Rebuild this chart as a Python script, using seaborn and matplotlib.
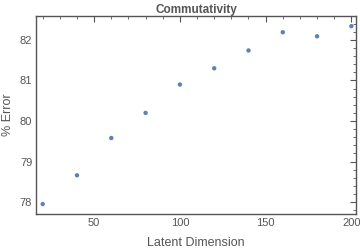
import matplotlib
matplotlib.use('Agg')
import matplotlib.pyplot as plt
import seaborn as sns
import pandas as pd
from matplotlib.ticker import MultipleLocator

latent_dim = [20, 40, 60, 80, 100, 120, 140, 160, 180, 200]
pct_error = [77.95, 78.66, 79.58, 80.2, 80.9, 81.3, 81.74, 82.19, 82.09, 82.34]

dados = pd.DataFrame({'Latent Dimension': latent_dim, '% Error': pct_error})

sns.set_theme(style="white")
plt.rcParams['font.family'] = ['Liberation Sans', 'DejaVu Sans']

frame = '#555555'
fig = plt.figure(figsize=(3.6, 2.52), dpi=100)
ax = fig.add_axes([0.101, 0.150, 0.887, 0.788])

sns.scatterplot(data=dados, x='Latent Dimension', y='% Error', ax=ax,
                color='#5E81B5', s=10, edgecolor='none')

ax.set_xlim(16.3, 202.5)
ax.set_ylim(77.7, 82.6)
ax.xaxis.set_major_locator(MultipleLocator(50))
ax.xaxis.set_minor_locator(MultipleLocator(10))
ax.yaxis.set_major_locator(MultipleLocator(1))
ax.yaxis.set_minor_locator(MultipleLocator(0.2))

for sp in ax.spines.values():
    sp.set_color(frame)
    sp.set_linewidth(1.0)

ax.tick_params(which='both', direction='in', top=True, right=True,
               color=frame, labelcolor='#555555', labelsize=8, pad=3)
ax.tick_params(which='major', length=4.5, width=0.8)
ax.tick_params(which='minor', length=2.5, width=0.6)

ax.set_xlabel('Latent Dimension', fontsize=9, color='#555555', labelpad=6)
ax.set_ylabel('% Error', fontsize=9, color='#555555', labelpad=4)
ax.set_title('Commutativity', fontsize=8.5, color='#555555', fontweight='bold', pad=2)

plt.savefig('out.png', dpi=100)
plt.close()
